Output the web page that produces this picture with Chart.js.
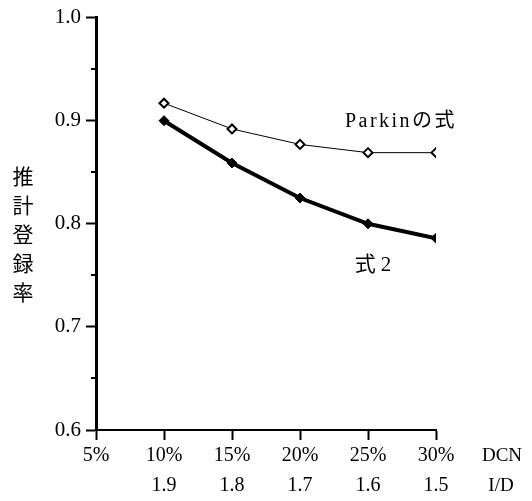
<!DOCTYPE html>
<html>
<head>
<meta charset="utf-8">
<script src="https://cdn.jsdelivr.net/npm/chart.js@4"></script>
<style>
  body { margin: 0; background: #fff; }
  #wrap { width: 532px; height: 501px; }
</style>
</head>
<body>
<div id="wrap"><canvas id="chart" width="532" height="501"></canvas></div>
<script>
// --- Datos ---
const dcnValues = [10, 15, 20, 25, 30];           // DCN (%)
const idLabels = ['', '1.9', '1.8', '1.7', '1.6', '1.5']; // I/D para 5%..30%
const parkinValues = [0.917, 0.892, 0.877, 0.869, 0.869]; // Parkinの式
const shiki2Values = [0.900, 0.859, 0.825, 0.800, 0.786]; // 式2
const minorTicks = [0.65, 0.75, 0.85, 0.95];
const yTitleChars = ['推', '計', '登', '録', '率'];

const serif = "'Liberation Serif', 'Noto Sans CJK JP', serif";

// Textos extra: título vertical, nombres de series, DCN / I/D
const extrasPlugin = {
    id: 'extras',
    afterDraw(chart) {
        const ctx = chart.ctx;
        const y = chart.scales.y;
        const left = chart.chartArea.left;
        ctx.save();
        // marcas menores del eje Y
        ctx.strokeStyle = '#000';
        ctx.lineWidth = 2;
        minorTicks.forEach(v => {
            const py = Math.round(y.getPixelForValue(v));
            ctx.beginPath();
            ctx.moveTo(left - 5, py);
            ctx.lineTo(left, py);
            ctx.stroke();
        });
        ctx.fillStyle = '#000';
        ctx.textAlign = 'center';
        ctx.textBaseline = 'middle';
        // título del eje Y, un carácter por renglón
        ctx.font = "21px 'Noto Sans CJK JP', sans-serif";
        yTitleChars.forEach((c, i) => ctx.fillText(c, 23, 176 + i * 29));
        // nombres de las series
        ctx.font = "20px " + serif;
        ctx.letterSpacing = '2.5px';
        ctx.fillText('Parkinの式', 401, 122);
        ctx.letterSpacing = '0px';
        ctx.font = "21px " + serif;
        ctx.fillText('式 2', 373, 265);
        // etiquetas a la derecha del eje X
        ctx.font = "19px " + serif;
        ctx.fillText('DCN', 502, 456);
        ctx.fillText('I/D', 501, 486);
        ctx.restore();
    }
};

new Chart(document.getElementById('chart').getContext('2d'), {
    type: 'line',
    data: {
        datasets: [
            {
                label: 'Parkinの式',
                data: dcnValues.map((x, i) => ({ x, y: parkinValues[i] })),
                borderColor: '#000',
                borderWidth: 1,
                pointStyle: 'rectRot',
                pointRadius: 4.5,
                pointBorderWidth: 2,
                pointBackgroundColor: '#fff',
                pointBorderColor: '#000',
                tension: 0
            },
            {
                label: '式2',
                data: dcnValues.map((x, i) => ({ x, y: shiki2Values[i] })),
                borderColor: '#000',
                borderWidth: 4,
                pointStyle: 'rectRot',
                pointRadius: 5,
                pointBorderWidth: 1,
                pointBackgroundColor: '#000',
                pointBorderColor: '#000',
                tension: 0
            }
        ]
    },
    options: {
        responsive: false,
        animation: false,
        layout: { padding: { top: 13, right: 96, left: 0, bottom: 0 } },
        plugins: { legend: { display: false }, tooltip: { enabled: false } },
        scales: {
            x: {
                type: 'linear',
                min: 5,
                max: 30,
                afterFit: s => { s.height = 71; },
                ticks: {
                    stepSize: 5,
                    color: '#000',
                    padding: 1,
                    maxRotation: 0,
                    font: { family: serif, size: 20, lineHeight: 1.5 },
                    callback: (v) => [v + '%', idLabels[Math.round((v - 5) / 5)] || '']
                },
                grid: { drawOnChartArea: false, tickLength: 10, tickWidth: 2, tickColor: '#000' },
                border: { color: '#000', width: 2 }
            },
            y: {
                min: 0.6,
                max: 1.0,
                afterFit: s => { s.width = 96; },
                ticks: {
                    stepSize: 0.1,
                    color: '#000',
                    padding: 5,
                    font: { family: serif, size: 21 },
                    callback: (v) => Number(v).toFixed(1)
                },
                grid: { drawOnChartArea: false, tickLength: 10, tickWidth: 2, tickColor: '#000' },
                border: { color: '#000', width: 3 }
            }
        }
    },
    plugins: [extrasPlugin]
});
</script>
</body>
</html>
